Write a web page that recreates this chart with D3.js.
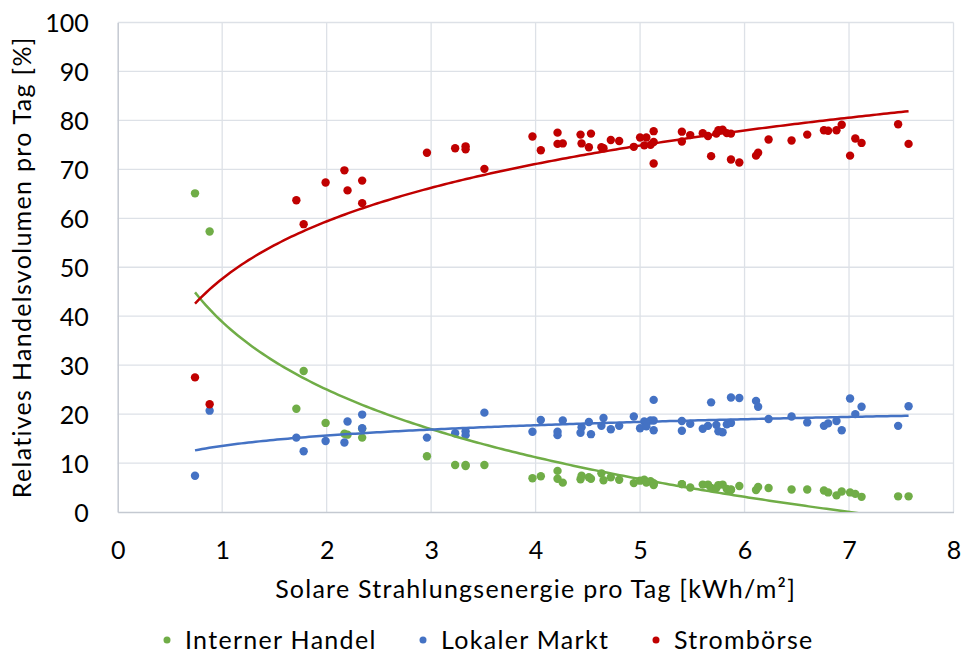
<!DOCTYPE html>
<html>
<head>
<meta charset="utf-8">
<script src="https://cdn.jsdelivr.net/npm/d3@7"></script>
<style>
body { margin: 0; background: #fff; }
text { font-family: Lato, sans-serif; fill: #000; }
</style>
</head>
<body>
<div id="chart"></div>
<script>
// solar energy per day [kWh/m2]
var tagEnergie = [0.74, 0.88, 1.71, 1.78, 1.99, 2.17, 2.20, 2.34, 2.34, 2.96,
    3.23, 3.33, 3.33, 3.51, 3.97, 4.05, 4.21, 4.21, 4.26, 4.43,
    4.44, 4.51, 4.53, 4.63, 4.65, 4.72, 4.80, 4.94, 5.00, 5.04,
    5.06, 5.10, 5.13, 5.13, 5.13, 5.40, 5.40, 5.48, 5.60, 5.65,
    5.68, 5.73, 5.75, 5.79, 5.83, 5.87, 5.87, 5.95, 6.11, 6.13,
    6.23, 6.45, 6.60, 6.76, 6.80, 6.88, 6.93, 7.01, 7.06, 7.12,
    7.47, 7.57];
var internerHandel = [65.1, 57.3, 21.1, 28.8, 18.2, 16.0, 15.8, 15.2, 17.0, 11.4,
    9.6, 9.6, 9.4, 9.6, 6.9, 7.3, 6.8, 8.4, 6.0, 6.7,
    7.4, 7.1, 6.8, 7.9, 6.5, 7.1, 6.6, 5.9, 6.4, 6.6,
    6.0, 6.3, 5.5, 5.7, 5.9, 5.7, 5.7, 5.0, 5.6, 5.6,
    4.9, 4.9, 5.5, 5.6, 4.7, 4.5, 4.6, 5.3, 4.5, 5.1,
    4.9, 4.6, 4.6, 4.4, 4.0, 3.4, 4.2, 4.0, 3.7, 3.1,
    3.2, 3.2];
var lokalerMarkt = [7.4, 20.7, 15.2, 12.4, 14.5, 14.2, 18.5, 17.1, 19.9, 15.2,
    16.1, 15.7, 16.5, 20.3, 16.4, 18.8, 15.7, 16.4, 18.7, 16.2,
    17.3, 18.4, 15.9, 17.6, 19.2, 16.9, 17.6, 19.5, 17.1, 18.5,
    17.5, 18.7, 16.7, 18.7, 22.9, 16.6, 18.6, 18.0, 17.0, 17.6,
    22.4, 17.8, 16.5, 16.3, 17.9, 18.2, 23.4, 23.3, 22.7, 21.5,
    19.0, 19.5, 18.3, 17.6, 18.1, 18.6, 16.7, 23.2, 20.0, 21.5,
    17.6, 21.6];
var stromboerse = [27.5, 22.0, 63.7, 58.8, 67.3, 69.8, 65.7, 67.7, 63.1, 73.4,
    74.3, 74.7, 74.1, 70.1, 76.7, 73.9, 77.5, 75.2, 75.3, 77.1,
    75.3, 74.5, 77.3, 74.5, 74.3, 76.0, 75.8, 74.6, 76.5, 74.9,
    76.5, 75.0, 77.8, 75.6, 71.2, 77.7, 75.7, 77.0, 77.4, 76.8,
    72.7, 77.3, 78.0, 78.1, 77.4, 77.3, 72.0, 71.4, 72.8, 73.4,
    76.1, 75.9, 77.1, 78.0, 77.9, 78.0, 79.1, 72.8, 76.3, 75.4,
    79.2, 75.2];
var seriesNames = ['Interner Handel', 'Lokaler Markt', 'Strombörse'];
var seriesColors = ['#70AD47', '#4472C4', '#C00000'];
var xTicks = [0, 1, 2, 3, 4, 5, 6, 7, 8];
var yTicks = [0, 10, 20, 30, 40, 50, 60, 70, 80, 90, 100];

// logarithmic trendline, like the spreadsheet does it
function logFit(xs, ys) {
    'use strict';
    var lx = xs.map(Math.log);
    var mx = d3.mean(lx), my = d3.mean(ys);
    var sxy = d3.sum(lx, function (v, i) { return (v - mx) * (ys[i] - my); });
    var sxx = d3.sum(lx, function (v) { return (v - mx) * (v - mx); });
    var b = sxy / sxx;
    var a = my - b * mx;
    return function (x) { return a + b * Math.log(x); };
}

function init() {
    'use strict';
    var W = 963, H = 654;
    var left = 117.7, right = 953.5, top = 22.5, bottom = 512;
    var x = d3.scaleLinear().domain([0, 8]).range([left, right]);
    var y = d3.scaleLinear().domain([0, 100]).range([bottom, top]);

    var svg = d3.select('#chart').append('svg')
        .attr('width', W).attr('height', H);

    svg.append('defs').append('clipPath').attr('id', 'plot')
        .append('rect').attr('x', left).attr('y', top)
        .attr('width', right - left).attr('height', bottom - top);

    // grid
    svg.append('g').selectAll('line').data(yTicks.slice(1)).enter().append('line')
        .attr('x1', left).attr('x2', right)
        .attr('y1', function (d) { return y(d); }).attr('y2', function (d) { return y(d); })
        .attr('stroke', '#dde1e7').attr('stroke-width', 1.3);
    svg.append('g').selectAll('line').data(xTicks.slice(1)).enter().append('line')
        .attr('y1', top).attr('y2', bottom)
        .attr('x1', function (d) { return x(d); }).attr('x2', function (d) { return x(d); })
        .attr('stroke', '#dde1e7').attr('stroke-width', 1.3);

    // axes
    var yAxis = svg.append('g').attr('transform', 'translate(' + left + ',0)')
        .call(d3.axisLeft(y).tickValues(yTicks).tickSize(0).tickPadding(29));
    var xAxis = svg.append('g').attr('transform', 'translate(0,' + bottom + ')')
        .call(d3.axisBottom(x).tickValues(xTicks).tickSize(0).tickPadding(29));
    [yAxis, xAxis].forEach(function (g) {
        g.select('.domain').attr('stroke', '#c4c9d1').attr('stroke-width', 1.5);
        g.selectAll('text').attr('font-family', 'Lato, sans-serif')
            .attr('font-size', 25).attr('fill', '#000');
    });
    yAxis.selectAll('text').attr('dy', '0.36em');

    // axis titles
    svg.append('text').attr('x', (left + right) / 2).attr('y', 598)
        .attr('text-anchor', 'middle').attr('font-size', 25)
        .attr('letter-spacing', 1.25)
        .text('Solare Strahlungsenergie pro Tag [kWh/m²]');
    svg.append('text').attr('transform', 'translate(31,' + ((top + bottom) / 2) + ') rotate(-90)')
        .attr('text-anchor', 'middle').attr('font-size', 25)
        .attr('letter-spacing', 1.3)
        .text('Relatives Handelsvolumen pro Tag [%]');

    var series = [internerHandel, lokalerMarkt, stromboerse];

    // points
    series.forEach(function (vals, si) {
        svg.append('g').selectAll('circle').data(vals).enter().append('circle')
            .attr('cx', function (d, i) { return x(tagEnergie[i]); })
            .attr('cy', function (d) { return y(d); })
            .attr('r', 4.2)
            .attr('fill', seriesColors[si]);
    });

    // trendlines
    var xmin = d3.min(tagEnergie), xmax = d3.max(tagEnergie);
    var samples = d3.range(0, 201).map(function (i) { return xmin + (xmax - xmin) * i / 200; });
    series.forEach(function (vals, si) {
        var f = logFit(tagEnergie, vals);
        var line = d3.line()
            .x(function (d) { return x(d); })
            .y(function (d) { return y(f(d)); });
        svg.append('path').datum(samples)
            .attr('d', line)
            .attr('clip-path', 'url(#plot)')
            .attr('fill', 'none')
            .attr('stroke', seriesColors[si])
            .attr('stroke-width', 2.5);
    });

    // legend
    var legendX = [167, 423, 656];
    var legend = svg.append('g').selectAll('g').data(seriesNames).enter().append('g')
        .attr('transform', function (d, i) { return 'translate(' + legendX[i] + ',640)'; });
    legend.append('circle').attr('r', 3.5)
        .attr('fill', function (d, i) { return seriesColors[i]; });
    legend.append('text').attr('x', 18).attr('y', 9).attr('font-size', 25)
        .attr('letter-spacing', 1.3)
        .text(function (d) { return d; });
}

window.onload = init;
</script>
</body>
</html>
